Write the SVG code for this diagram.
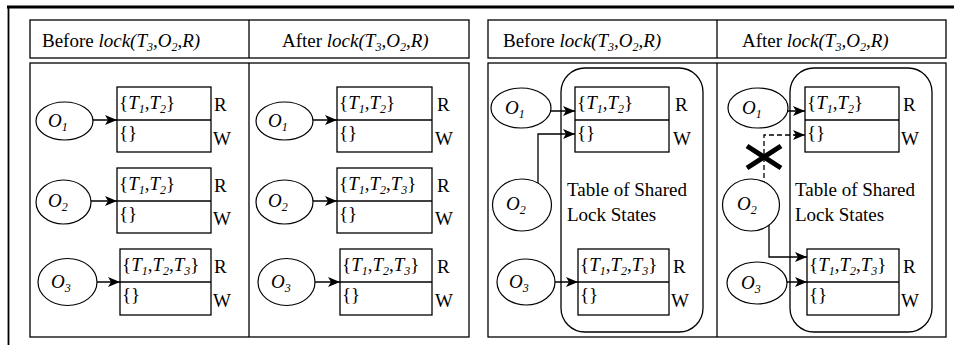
<svg xmlns="http://www.w3.org/2000/svg" width="954" height="345" viewBox="0 0 954 345" font-family="'Liberation Serif', 'Times New Roman', 'DejaVu Serif', serif">
  <style>
    text { font-family: "Liberation Serif", "Times New Roman", "DejaVu Serif", serif; font-size: 19px; fill: #000; }
    .i { font-style: italic; }
    .s { font-size: 12px; font-style: italic; }
    .box { fill: #fff; stroke: #000; stroke-width: 1.3; }
    .ln { fill: none; stroke: #000; stroke-width: 1.3; }
    .obj { fill: #fff; stroke: #000; stroke-width: 1.2; }
    .arr { fill: none; stroke: #000; stroke-width: 1.3; marker-end: url(#ah); }
    .dash { fill: none; stroke: #000; stroke-width: 1.3; stroke-dasharray: 5 3; }
    .grp { fill: none; stroke: #000; stroke-width: 1.3; }
  </style>
  <defs>
    <marker id="ah" markerUnits="userSpaceOnUse" markerWidth="12" markerHeight="10" refX="12" refY="5" orient="auto">
      <path d="M0,0 L12,5 L0,10 L3,5 z" fill="#000"/>
    </marker>
  </defs>

  <rect width="954" height="345" fill="#fff"/>

  <!-- outer frame -->
  <g id="frame">
    <line x1="7" y1="7" x2="954" y2="7" stroke="#000" stroke-width="3"/>
    <line x1="8.5" y1="6" x2="8.5" y2="345" stroke="#000" stroke-width="1.8"/>
  </g>

  <!-- left panel: headers and bodies -->
  <g id="left-panel">
    <rect class="box" x="30" y="20" width="439" height="38"/>
    <line class="ln" x1="249" y1="20" x2="249" y2="58"/>
    <rect class="box" x="30" y="63" width="439" height="274"/>
    <line class="ln" x1="249" y1="63" x2="249" y2="337"/>
    <text x="42" y="47">Before <tspan class="i">lock(T</tspan><tspan class="s" dy="4">3</tspan><tspan class="i" dy="-4">,O</tspan><tspan class="s" dy="4">2</tspan><tspan class="i" dy="-4">,R)</tspan></text>
    <text x="282" y="47">After <tspan class="i">lock(T</tspan><tspan class="s" dy="4">3</tspan><tspan class="i" dy="-4">,O</tspan><tspan class="s" dy="4">2</tspan><tspan class="i" dy="-4">,R)</tspan></text>
  </g>

  <!-- right panel: headers and bodies -->
  <g id="right-panel">
    <rect class="box" x="488" y="20" width="458" height="38"/>
    <line class="ln" x1="717" y1="20" x2="717" y2="58"/>
    <rect class="box" x="488" y="63" width="458" height="274"/>
    <line class="ln" x1="717" y1="63" x2="717" y2="337"/>
    <text x="503" y="47">Before <tspan class="i">lock(T</tspan><tspan class="s" dy="4">3</tspan><tspan class="i" dy="-4">,O</tspan><tspan class="s" dy="4">2</tspan><tspan class="i" dy="-4">,R)</tspan></text>
    <text x="742" y="47">After <tspan class="i">lock(T</tspan><tspan class="s" dy="4">3</tspan><tspan class="i" dy="-4">,O</tspan><tspan class="s" dy="4">2</tspan><tspan class="i" dy="-4">,R)</tspan></text>
    <rect class="grp" x="561" y="68" width="142" height="264" rx="24"/>
    <rect class="grp" x="790" y="68" width="142" height="264" rx="24"/>
    <text x="567" y="196">Table of Shared</text>
    <text x="567" y="221">Lock States</text>
    <text x="795" y="196">Table of Shared</text>
    <text x="795" y="221">Lock States</text>
  </g>

  <!-- connectors -->
  <g id="connectors">
    <line class="arr" x1="72" y1="120" x2="117" y2="120"/>
    <line class="arr" x1="72" y1="201" x2="117" y2="201"/>
    <line class="arr" x1="76" y1="282" x2="120" y2="282"/>
    <line class="arr" x1="292" y1="120" x2="337" y2="120"/>
    <line class="arr" x1="292" y1="201" x2="337" y2="201"/>
    <line class="arr" x1="295" y1="282" x2="340" y2="282"/>
    <line class="arr" x1="522" y1="111" x2="575" y2="111"/>
    <polyline class="arr" points="538,200 538,134 575,134"/>
    <line class="arr" x1="533" y1="282" x2="578" y2="282"/>
    <line class="arr" x1="765" y1="111" x2="805" y2="111"/>
    <polyline class="dash" points="764,210 764,135 796,135"/>
    <line class="arr" x1="794" y1="135" x2="805" y2="135"/>
    <polyline class="arr" points="769,203 769,257 807,257"/>
    <line class="arr" x1="762" y1="282" x2="807" y2="282"/>
    <path d="M747,146 L781,168 M747,168 L781,146" stroke="#000" stroke-width="5" fill="none"/>
  </g>

  <!-- left panel, before -->
  <g id="L-O1">
    <ellipse class="obj" cx="64.5" cy="121" rx="28.5" ry="19"/>
    <text x="48" y="127" class="i">O<tspan class="s" dy="4">1</tspan></text>
  </g>
  <g id="L-T1">
    <rect class="box" x="117" y="87" width="94" height="65"/>
    <line class="ln" x1="117" y1="120" x2="211" y2="120"/>
    <text x="119" y="109">{<tspan class="i">T</tspan><tspan class="s" dy="4">1</tspan><tspan dy="-4">,</tspan><tspan class="i">T</tspan><tspan class="s" dy="4">2</tspan><tspan dy="-4">}</tspan></text>
    <text x="119" y="139">{}</text>
    <text x="214" y="111">R</text>
    <text x="213" y="145">W</text>
  </g>
  <g id="L-O2">
    <ellipse class="obj" cx="63.5" cy="202" rx="27.5" ry="22"/>
    <text x="48" y="207" class="i">O<tspan class="s" dy="4">2</tspan></text>
  </g>
  <g id="L-T2">
    <rect class="box" x="117" y="168" width="94" height="65"/>
    <line class="ln" x1="117" y1="201" x2="211" y2="201"/>
    <text x="119" y="190">{<tspan class="i">T</tspan><tspan class="s" dy="4">1</tspan><tspan dy="-4">,</tspan><tspan class="i">T</tspan><tspan class="s" dy="4">2</tspan><tspan dy="-4">}</tspan></text>
    <text x="119" y="220">{}</text>
    <text x="214" y="192">R</text>
    <text x="213" y="225">W</text>
  </g>
  <g id="L-O3">
    <ellipse class="obj" cx="67.5" cy="282" rx="29.5" ry="23.5"/>
    <text x="51" y="288" class="i">O<tspan class="s" dy="4">3</tspan></text>
  </g>
  <g id="L-T3">
    <rect class="box" x="120" y="249" width="91" height="66"/>
    <line class="ln" x1="120" y1="282" x2="211" y2="282"/>
    <text x="122" y="271">{<tspan class="i">T</tspan><tspan class="s" dy="4">1</tspan><tspan dy="-4">,</tspan><tspan class="i">T</tspan><tspan class="s" dy="4">2</tspan><tspan dy="-4">,</tspan><tspan class="i">T</tspan><tspan class="s" dy="4">3</tspan><tspan dy="-4">}</tspan></text>
    <text x="122" y="301">{}</text>
    <text x="214" y="273">R</text>
    <text x="213" y="307">W</text>
  </g>

  <!-- left panel, after -->
  <g id="LA-O1">
    <ellipse class="obj" cx="284.5" cy="121" rx="28.5" ry="19"/>
    <text x="268" y="127" class="i">O<tspan class="s" dy="4">1</tspan></text>
  </g>
  <g id="LA-T1">
    <rect class="box" x="337" y="87" width="95" height="65"/>
    <line class="ln" x1="337" y1="120" x2="432" y2="120"/>
    <text x="339" y="109">{<tspan class="i">T</tspan><tspan class="s" dy="4">1</tspan><tspan dy="-4">,</tspan><tspan class="i">T</tspan><tspan class="s" dy="4">2</tspan><tspan dy="-4">}</tspan></text>
    <text x="339" y="139">{}</text>
    <text x="437" y="111">R</text>
    <text x="435" y="145">W</text>
  </g>
  <g id="LA-O2">
    <ellipse class="obj" cx="284.5" cy="202" rx="28.5" ry="22"/>
    <text x="268" y="207" class="i">O<tspan class="s" dy="4">2</tspan></text>
  </g>
  <g id="LA-T2">
    <rect class="box" x="337" y="168" width="95" height="65"/>
    <line class="ln" x1="337" y1="201" x2="432" y2="201"/>
    <text x="339" y="190">{<tspan class="i">T</tspan><tspan class="s" dy="4">1</tspan><tspan dy="-4">,</tspan><tspan class="i">T</tspan><tspan class="s" dy="4">2</tspan><tspan dy="-4">,</tspan><tspan class="i">T</tspan><tspan class="s" dy="4">3</tspan><tspan dy="-4">}</tspan></text>
    <text x="339" y="220">{}</text>
    <text x="437" y="192">R</text>
    <text x="435" y="225">W</text>
  </g>
  <g id="LA-O3">
    <ellipse class="obj" cx="286.5" cy="282" rx="28.5" ry="23.5"/>
    <text x="271" y="288" class="i">O<tspan class="s" dy="4">3</tspan></text>
  </g>
  <g id="LA-T3">
    <rect class="box" x="340" y="249" width="92" height="66"/>
    <line class="ln" x1="340" y1="282" x2="432" y2="282"/>
    <text x="342" y="271">{<tspan class="i">T</tspan><tspan class="s" dy="4">1</tspan><tspan dy="-4">,</tspan><tspan class="i">T</tspan><tspan class="s" dy="4">2</tspan><tspan dy="-4">,</tspan><tspan class="i">T</tspan><tspan class="s" dy="4">3</tspan><tspan dy="-4">}</tspan></text>
    <text x="342" y="301">{}</text>
    <text x="437" y="273">R</text>
    <text x="435" y="307">W</text>
  </g>

  <!-- right panel, before -->
  <g id="R-O1">
    <ellipse class="obj" cx="521" cy="108" rx="30" ry="20"/>
    <text x="505" y="114" class="i">O<tspan class="s" dy="4">1</tspan></text>
  </g>
  <g id="R-T1">
    <rect class="box" x="575" y="87" width="94" height="65"/>
    <line class="ln" x1="575" y1="120" x2="669" y2="120"/>
    <text x="577" y="109">{<tspan class="i">T</tspan><tspan class="s" dy="4">1</tspan><tspan dy="-4">,</tspan><tspan class="i">T</tspan><tspan class="s" dy="4">2</tspan><tspan dy="-4">}</tspan></text>
    <text x="577" y="139">{}</text>
    <text x="675" y="111">R</text>
    <text x="673" y="145">W</text>
  </g>
  <g id="R-O2">
    <ellipse class="obj" cx="522" cy="205" rx="29.5" ry="26"/>
    <text x="506" y="210" class="i">O<tspan class="s" dy="4">2</tspan></text>
  </g>
  <g id="R-O3">
    <ellipse class="obj" cx="526" cy="282" rx="29" ry="23"/>
    <text x="509" y="288" class="i">O<tspan class="s" dy="4">3</tspan></text>
  </g>
  <g id="R-T3">
    <rect class="box" x="578" y="249" width="91" height="66"/>
    <line class="ln" x1="578" y1="282" x2="669" y2="282"/>
    <text x="580" y="271">{<tspan class="i">T</tspan><tspan class="s" dy="4">1</tspan><tspan dy="-4">,</tspan><tspan class="i">T</tspan><tspan class="s" dy="4">2</tspan><tspan dy="-4">,</tspan><tspan class="i">T</tspan><tspan class="s" dy="4">3</tspan><tspan dy="-4">}</tspan></text>
    <text x="580" y="301">{}</text>
    <text x="673" y="273">R</text>
    <text x="671" y="307">W</text>
  </g>

  <!-- right panel, after -->
  <g id="RA-O1">
    <ellipse class="obj" cx="758" cy="108" rx="30" ry="20"/>
    <text x="742" y="114" class="i">O<tspan class="s" dy="4">1</tspan></text>
  </g>
  <g id="RA-T1">
    <rect class="box" x="805" y="87" width="94" height="65"/>
    <line class="ln" x1="805" y1="120" x2="899" y2="120"/>
    <text x="807" y="109">{<tspan class="i">T</tspan><tspan class="s" dy="4">1</tspan><tspan dy="-4">,</tspan><tspan class="i">T</tspan><tspan class="s" dy="4">2</tspan><tspan dy="-4">}</tspan></text>
    <text x="807" y="139">{}</text>
    <text x="903" y="111">R</text>
    <text x="901" y="145">W</text>
  </g>
  <g id="RA-O2">
    <ellipse class="obj" cx="751" cy="205" rx="28.5" ry="26" fill="none"/>
    <text x="737" y="210" class="i">O<tspan class="s" dy="4">2</tspan></text>
  </g>
  <g id="RA-O3">
    <ellipse class="obj" cx="757" cy="283" rx="30" ry="21"/>
    <text x="741" y="289" class="i">O<tspan class="s" dy="4">3</tspan></text>
  </g>
  <g id="RA-T3">
    <rect class="box" x="807" y="249" width="92" height="66"/>
    <line class="ln" x1="807" y1="282" x2="899" y2="282"/>
    <text x="809" y="271">{<tspan class="i">T</tspan><tspan class="s" dy="4">1</tspan><tspan dy="-4">,</tspan><tspan class="i">T</tspan><tspan class="s" dy="4">2</tspan><tspan dy="-4">,</tspan><tspan class="i">T</tspan><tspan class="s" dy="4">3</tspan><tspan dy="-4">}</tspan></text>
    <text x="809" y="301">{}</text>
    <text x="903" y="273">R</text>
    <text x="901" y="307">W</text>
  </g>
</svg>
